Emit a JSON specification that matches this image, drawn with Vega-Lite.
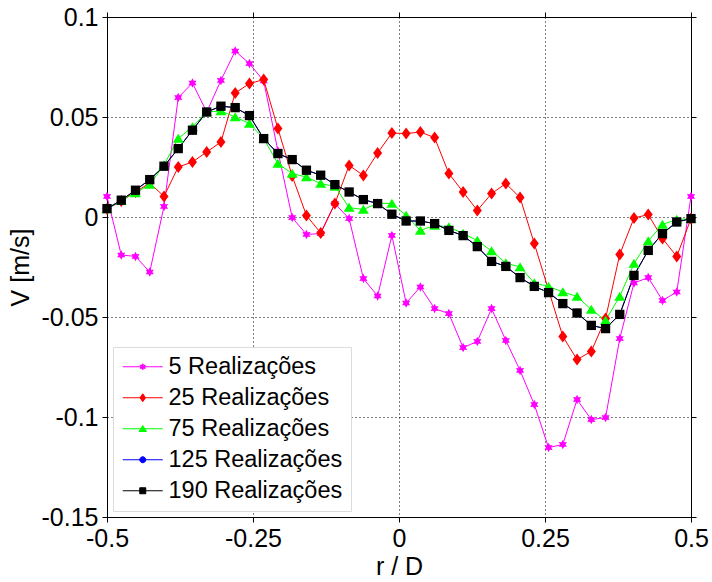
{
  "$schema": "https://vega.github.io/schema/vega-lite/v6.json",
  "width": 584,
  "height": 500,
  "autosize": {"type": "none"},
  "padding": {"left": 107, "top": 17, "right": 21, "bottom": 65},
  "background": "white",
  "config": {
    "view": {"stroke": "black", "fill": "#e6e6e6", "strokeWidth": 1},
    "font": "Liberation Sans",
    "axis": {
      "labelFont": "Liberation Sans", "labelFontSize": 25, "labelColor": "black",
      "titleFont": "Liberation Sans", "titleFontSize": 25, "titleFontWeight": "normal", "titleColor": "black",
      "domainColor": "black", "tickColor": "black", "tickSize": 5,
      "gridColor": "black", "gridDash": [1, 3], "gridOpacity": 1, "gridWidth": 1
    },
    "legend": {
      "orient": "bottom-left", "offset": 6, "zindex": 2,
      "labelFont": "Liberation Sans", "labelFontSize": 23.5, "labelColor": "black", "labelLimit": 400,
      "fillColor": "#ffffff", "strokeColor": "#dcdcdc", "padding": 8, "rowPadding": 6,
      "symbolSize": 100, "symbolStrokeWidth": 1, "symbolOpacity": 1,
      "symbolOffset": 10, "labelOffset": 14
    }
  },
  "data": {"values": [
    {"r": -0.5, "5 Realizações": 0.0103, "25 Realizações": 0.004, "75 Realizações": 0.004, "125 Realizações": 0.0042, "190 Realizações": 0.0042},
    {"r": -0.4756, "5 Realizações": -0.019, "25 Realizações": 0.008, "75 Realizações": 0.0082, "125 Realizações": 0.0084, "190 Realizações": 0.0084},
    {"r": -0.4512, "5 Realizações": -0.0197, "25 Realizações": 0.0125, "75 Realizações": 0.012, "125 Realizações": 0.0134, "190 Realizações": 0.0134},
    {"r": -0.4268, "5 Realizações": -0.0275, "25 Realizações": 0.017, "75 Realizações": 0.0163, "125 Realizações": 0.0187, "190 Realizações": 0.0187},
    {"r": -0.4024, "5 Realizações": 0.0053, "25 Realizações": 0.0103, "75 Realizações": 0.026, "125 Realizações": 0.0254, "190 Realizações": 0.0254},
    {"r": -0.378, "5 Realizações": 0.0597, "25 Realizações": 0.025, "75 Realizações": 0.0392, "125 Realizações": 0.0342, "190 Realizações": 0.0342},
    {"r": -0.3537, "5 Realizações": 0.067, "25 Realizações": 0.0275, "75 Realizações": 0.045, "125 Realizações": 0.0434, "190 Realizações": 0.0434},
    {"r": -0.3293, "5 Realizações": 0.0525, "25 Realizações": 0.0325, "75 Realizações": 0.0525, "125 Realizações": 0.0525, "190 Realizações": 0.0525},
    {"r": -0.3049, "5 Realizações": 0.0683, "25 Realizações": 0.0375, "75 Realizações": 0.053, "125 Realizações": 0.0554, "190 Realizações": 0.0554},
    {"r": -0.2805, "5 Realizações": 0.083, "25 Realizações": 0.062, "75 Realizações": 0.05, "125 Realizações": 0.0547, "190 Realizações": 0.0547},
    {"r": -0.2561, "5 Realizações": 0.0767, "25 Realizações": 0.0667, "75 Realizações": 0.0467, "125 Realizações": 0.0507, "190 Realizações": 0.0507},
    {"r": -0.2317, "5 Realizações": 0.068, "25 Realizações": 0.0687, "75 Realizações": 0.0392, "125 Realizações": 0.0392, "190 Realizações": 0.0392},
    {"r": -0.2073, "5 Realizações": 0.033, "25 Realizações": 0.0442, "75 Realizações": 0.0267, "125 Realizações": 0.0317, "190 Realizações": 0.0317},
    {"r": -0.1829, "5 Realizações": -0.0003, "25 Realizações": 0.0205, "75 Realizações": 0.0217, "125 Realizações": 0.0287, "190 Realizações": 0.0287},
    {"r": -0.1585, "5 Realizações": -0.0087, "25 Realizações": 0.0008, "75 Realizações": 0.02, "125 Realizações": 0.0234, "190 Realizações": 0.0234},
    {"r": -0.1341, "5 Realizações": -0.0083, "25 Realizações": -0.008, "75 Realizações": 0.0167, "125 Realizações": 0.0209, "190 Realizações": 0.0209},
    {"r": -0.1098, "5 Realizações": 0.0067, "25 Realizações": 0.0067, "75 Realizações": 0.0153, "125 Realizações": 0.0162, "190 Realizações": 0.0162},
    {"r": -0.0854, "5 Realizações": -0.0008, "25 Realizações": 0.0258, "75 Realizações": 0.0047, "125 Realizações": 0.0125, "190 Realizações": 0.0125},
    {"r": -0.061, "5 Realizações": -0.0308, "25 Realizações": 0.0208, "75 Realizações": 0.0037, "125 Realizações": 0.0087, "190 Realizações": 0.0087},
    {"r": -0.0366, "5 Realizações": -0.0395, "25 Realizações": 0.032, "75 Realizações": 0.007, "125 Realizações": 0.0067, "190 Realizações": 0.0067},
    {"r": -0.0122, "5 Realizações": -0.0092, "25 Realizações": 0.042, "75 Realizações": 0.0067, "125 Realizações": 0.0014, "190 Realizações": 0.0014},
    {"r": 0.0122, "5 Realizações": -0.043, "25 Realizações": 0.0417, "75 Realizações": 0.0008, "125 Realizações": -0.002, "190 Realizações": -0.002},
    {"r": 0.0366, "5 Realizações": -0.035, "25 Realizações": 0.0425, "75 Realizações": -0.0067, "125 Realizações": -0.002, "190 Realizações": -0.002},
    {"r": 0.061, "5 Realizações": -0.0458, "25 Realizações": 0.0397, "75 Realizações": -0.0042, "125 Realizações": -0.0033, "190 Realizações": -0.0033},
    {"r": 0.0854, "5 Realizações": -0.0483, "25 Realizações": 0.0217, "75 Realizações": -0.005, "125 Realizações": -0.0067, "190 Realizações": -0.0067},
    {"r": 0.1098, "5 Realizações": -0.0653, "25 Realizações": 0.0125, "75 Realizações": -0.0083, "125 Realizações": -0.0093, "190 Realizações": -0.0093},
    {"r": 0.1341, "5 Realizações": -0.0622, "25 Realizações": 0.0033, "75 Realizações": -0.0117, "125 Realizações": -0.0148, "190 Realizações": -0.0148},
    {"r": 0.1585, "5 Realizações": -0.0458, "25 Realizações": 0.0117, "75 Realizações": -0.017, "125 Realizações": -0.0222, "190 Realizações": -0.0222},
    {"r": 0.1829, "5 Realizações": -0.0617, "25 Realizações": 0.0167, "75 Realizações": -0.023, "125 Realizações": -0.0247, "190 Realizações": -0.0247},
    {"r": 0.2073, "5 Realizações": -0.0767, "25 Realizações": 0.0097, "75 Realizações": -0.025, "125 Realizações": -0.0303, "190 Realizações": -0.0303},
    {"r": 0.2317, "5 Realizações": -0.0938, "25 Realizações": -0.0133, "75 Realizações": -0.033, "125 Realizações": -0.0347, "190 Realizações": -0.0347},
    {"r": 0.2561, "5 Realizações": -0.1153, "25 Realizações": -0.0365, "75 Realizações": -0.0347, "125 Realizações": -0.0378, "190 Realizações": -0.0378},
    {"r": 0.2805, "5 Realizações": -0.1137, "25 Realizações": -0.0597, "75 Realizações": -0.0375, "125 Realizações": -0.0433, "190 Realizações": -0.0433},
    {"r": 0.3049, "5 Realizações": -0.0913, "25 Realizações": -0.0713, "75 Realizações": -0.0397, "125 Realizações": -0.048, "190 Realizações": -0.048},
    {"r": 0.3293, "5 Realizações": -0.1013, "25 Realizações": -0.0672, "75 Realizações": -0.0463, "125 Realizações": -0.0542, "190 Realizações": -0.0542},
    {"r": 0.3537, "5 Realizações": -0.1003, "25 Realizações": -0.0508, "75 Realizações": -0.0517, "125 Realizações": -0.0558, "190 Realizações": -0.0558},
    {"r": 0.378, "5 Realizações": -0.0608, "25 Realizações": -0.0187, "75 Realizações": -0.0397, "125 Realizações": -0.0487, "190 Realizações": -0.0487},
    {"r": 0.4024, "5 Realizações": -0.033, "25 Realizações": -0.0005, "75 Realizações": -0.0233, "125 Realizações": -0.0292, "190 Realizações": -0.0292},
    {"r": 0.4268, "5 Realizações": -0.0303, "25 Realizações": 0.0012, "75 Realizações": -0.012, "125 Realizações": -0.0167, "190 Realizações": -0.0167},
    {"r": 0.4512, "5 Realizações": -0.0417, "25 Realizações": -0.0108, "75 Realizações": -0.0037, "125 Realizações": -0.0083, "190 Realizações": -0.0083},
    {"r": 0.4756, "5 Realizações": -0.0375, "25 Realizações": -0.0197, "75 Realizações": -0.0013, "125 Realizações": -0.0025, "190 Realizações": -0.0025},
    {"r": 0.5, "5 Realizações": 0.0103, "25 Realizações": -0.0008, "75 Realizações": -0.0008, "125 Realizações": -0.0008, "190 Realizações": -0.0008}
  ]},
  "transform": [
    {"fold": ["5 Realizações", "25 Realizações", "75 Realizações", "125 Realizações", "190 Realizações"], "as": ["serie", "v"]}
  ],
  "layer": [
    {
      "mark": {"type": "line", "strokeWidth": 1},
      "encoding": {
        "x": {"field": "r", "type": "quantitative",
              "scale": {"domain": [-0.5, 0.5], "nice": false, "zero": false},
              "axis": {"orient": "bottom", "values": [-0.5, -0.25, 0, 0.25, 0.5], "labelExpr": "toString(datum.value)", "title": "r / D", "grid": true, "labelPadding": 4, "titlePadding": 3, "labelFlush": false}},
        "y": {"field": "v", "type": "quantitative",
              "scale": {"domain": [-0.15, 0.1], "nice": false, "zero": false},
              "axis": {"orient": "left", "values": [-0.15, -0.1, -0.05, 0, 0.05, 0.1], "labelExpr": "toString(datum.value)", "title": "V [m/s]", "grid": true, "labelPadding": 4, "titlePadding": 8, "labelFlush": false}},
        "stroke": {"field": "serie", "type": "nominal",
                   "scale": {"domain": ["5 Realizações", "25 Realizações", "75 Realizações", "125 Realizações", "190 Realizações"], "range": ["#ff00ff", "#ff0000", "#00ff00", "#0000ff", "#000000"]},
                   "legend": null}
      }
    },
    {
      "mark": {"type": "point", "filled": true, "size": 100, "opacity": 1},
      "encoding": {
        "x": {"field": "r", "type": "quantitative",
              "axis": {"orient": "top", "values": [-0.5, -0.25, 0, 0.25, 0.5], "labels": false, "grid": false, "title": null}},
        "y": {"field": "v", "type": "quantitative",
              "axis": {"orient": "right", "values": [-0.15, -0.1, -0.05, 0, 0.05, 0.1], "labels": false, "grid": false, "title": null}},
        "fill": {"field": "serie", "type": "nominal",
                 "scale": {"domain": ["5 Realizações", "25 Realizações", "75 Realizações", "125 Realizações", "190 Realizações"], "range": ["#ff00ff", "#ff0000", "#00ff00", "#0000ff", "#000000"]},
                 "legend": null},
        "shape": {"field": "serie", "type": "nominal",
                  "scale": {"domain": ["5 Realizações", "25 Realizações", "75 Realizações", "125 Realizações", "190 Realizações"],
                            "range": [
                              "M0,-0.95L0.26,-0.45L0.82,-0.47L0.52,0L0.82,0.47L0.26,0.45L0,0.95L-0.26,0.45L-0.82,0.47L-0.52,0L-0.82,-0.47L-0.26,-0.45Z",
                              "M0,-1.2L0.9,0L0,1.2L-0.9,0Z",
                              "M0,-0.95L1.1,0.85L-1.1,0.85Z",
                              "M0.85,0A0.85,0.85 0 1,1 -0.85,0A0.85,0.85 0 1,1 0.85,0Z",
                              "M-0.93,-0.93H0.93V0.93H-0.93Z"
                            ]},
                  "legend": null}
      }
    },
    {
      "mark": {"type": "point", "filled": true, "size": 100, "opacity": 0},
      "encoding": {
        "fill": {"field": "serie", "type": "nominal",
                 "scale": {"domain": ["5 Realizações", "25 Realizações", "75 Realizações", "125 Realizações", "190 Realizações"], "range": ["#ff00ff", "#ff0000", "#00ff00", "#0000ff", "#000000"]},
                 "legend": {"title": null}},
        "stroke": {"field": "serie", "type": "nominal",
                   "scale": {"domain": ["5 Realizações", "25 Realizações", "75 Realizações", "125 Realizações", "190 Realizações"], "range": ["#ff00ff", "#ff0000", "#00ff00", "#0000ff", "#000000"]},
                   "legend": {"title": null}},
        "shape": {"field": "serie", "type": "nominal",
                  "scale": {"domain": ["5 Realizações", "25 Realizações", "75 Realizações", "125 Realizações", "190 Realizações"],
                            "range": [
                              "M-4,0H4M0,-0.6L0.17,-0.3L0.52,-0.3L0.33,0L0.52,0.3L0.17,0.3L0,0.6L-0.17,0.3L-0.52,0.3L-0.33,0L-0.52,-0.3L-0.17,-0.3Z",
                              "M-4,0H4M0,-0.8L0.55,0L0,0.8L-0.55,0Z",
                              "M-4,0H4M0,-0.65L0.75,0.55L-0.75,0.55Z",
                              "M-4,0H4M0.6,0A0.6,0.6 0 1,1 -0.6,0A0.6,0.6 0 1,1 0.6,0Z",
                              "M-4,0H4M-0.6,-0.6H0.6V0.6H-0.6Z"
                            ]},
                  "legend": {"title": null}}
      }
    }
  ],
  "resolve": {"scale": {"shape": "independent", "fill": "independent", "stroke": "independent"}}
}
